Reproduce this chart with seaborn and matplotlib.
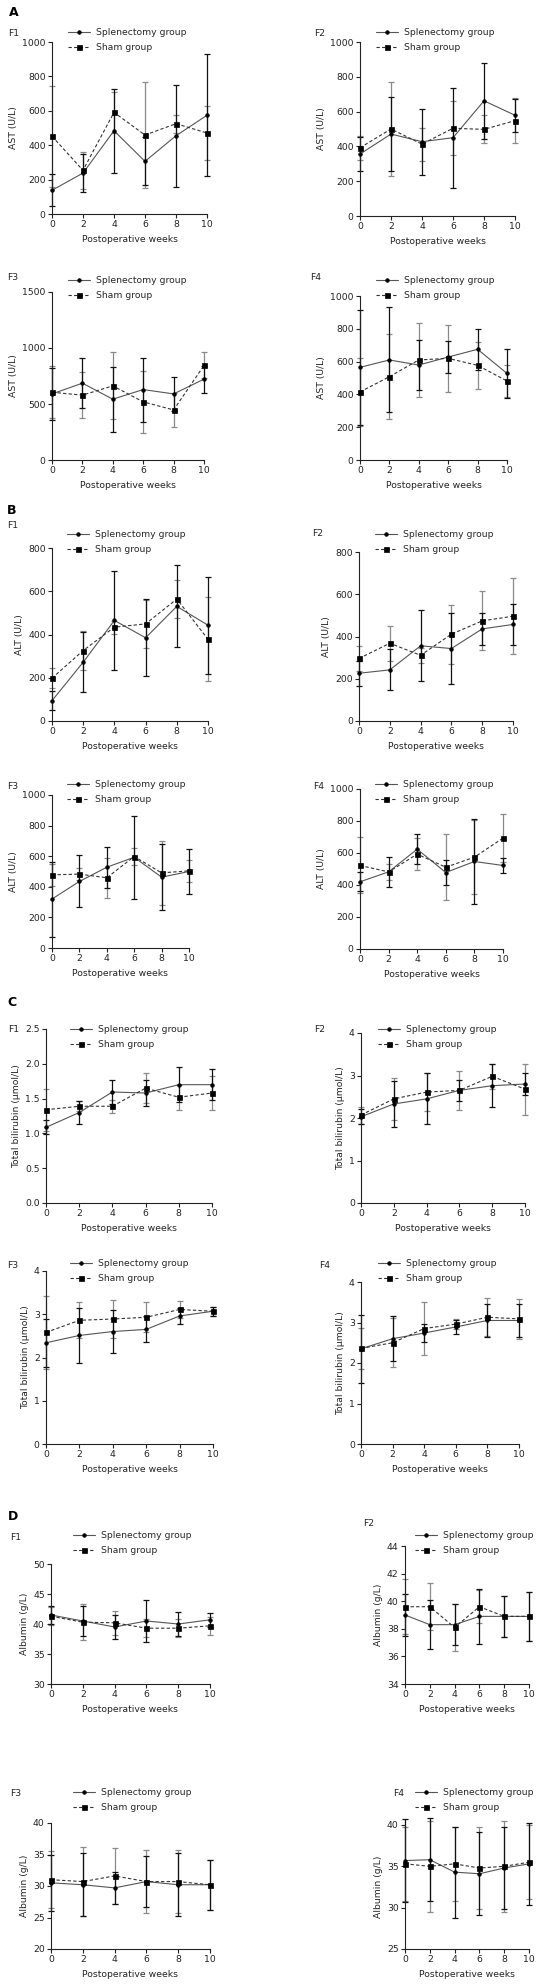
import matplotlib
matplotlib.use("Agg")
import matplotlib.pyplot as plt
import seaborn as sns
import pandas as pd

# ---------------- data ----------------
weeks = [0, 2, 4, 6, 8, 10]
groups = ["Splenectomy group", "Sham group"]

ast_f1_spl = [138, 238, 484, 306, 455, 574]
ast_f1_spl_sd = [93, 110, 245, 140, 296, 355]
ast_f1_sham = [452, 254, 591, 459, 525, 471]
ast_f1_sham_sd = [294, 107, 120, 308, 52, 159]

ast_f2_spl = [356, 471, 427, 450, 662, 579]
ast_f2_spl_sd = [100, 213, 190, 288, 220, 96]
ast_f2_sham = [392, 500, 413, 504, 498, 548]
ast_f2_sham_sd = [68, 270, 95, 155, 80, 130]

ast_f3_spl = [590, 686, 543, 629, 590, 722]
ast_f3_spl_sd = [230, 221, 290, 286, 150, 120]
ast_f3_sham = [605, 579, 662, 519, 447, 844]
ast_f3_sham_sd = [230, 205, 298, 280, 150, 116]

ast_f4_spl = [565, 610, 579, 628, 675, 528]
ast_f4_spl_sd = [350, 320, 150, 100, 125, 150]
ast_f4_sham = [415, 508, 610, 620, 577, 482]
ast_f4_sham_sd = [205, 258, 225, 205, 145, 100]

alt_f1_spl = [94, 272, 465, 385, 530, 443]
alt_f1_spl_sd = [45, 140, 228, 177, 190, 225]
alt_f1_sham = [198, 326, 434, 449, 564, 378]
alt_f1_sham_sd = [45, 90, 30, 110, 90, 195]

alt_f2_spl = [226, 242, 356, 343, 436, 457]
alt_f2_spl_sd = [60, 97, 168, 167, 75, 95]
alt_f2_sham = [296, 368, 311, 411, 474, 496]
alt_f2_sham_sd = [57, 83, 35, 140, 140, 180]

alt_f3_spl = [320, 435, 528, 593, 463, 500]
alt_f3_spl_sd = [245, 170, 135, 270, 215, 145]
alt_f3_sham = [478, 483, 459, 598, 491, 504]
alt_f3_sham_sd = [70, 40, 130, 55, 210, 70]

alt_f4_spl = [420, 482, 624, 478, 547, 522]
alt_f4_spl_sd = [60, 96, 95, 80, 265, 48]
alt_f4_sham = [522, 482, 593, 511, 574, 693]
alt_f4_sham_sd = [175, 50, 100, 207, 230, 152]

tb_f1_spl = [1.087, 1.30, 1.595, 1.58, 1.70, 1.70]
tb_f1_spl_sd = [0.10, 0.16, 0.17, 0.19, 0.25, 0.22]
tb_f1_sham = [1.34, 1.39, 1.39, 1.65, 1.52, 1.58]
tb_f1_sham_sd = [0.30, 0.07, 0.09, 0.22, 0.18, 0.25]

tb_f2_spl = [2.03, 2.33, 2.45, 2.65, 2.76, 2.80]
tb_f2_spl_sd = [0.18, 0.55, 0.60, 0.24, 0.50, 0.27]
tb_f2_sham = [2.07, 2.45, 2.61, 2.65, 2.98, 2.68]
tb_f2_sham_sd = [0.20, 0.50, 0.45, 0.46, 0.30, 0.60]

tb_f3_spl = [2.34, 2.51, 2.60, 2.65, 2.96, 3.07]
tb_f3_spl_sd = [0.55, 0.64, 0.50, 0.30, 0.18, 0.10]
tb_f3_sham = [2.58, 2.86, 2.89, 2.93, 3.11, 3.07]
tb_f3_sham_sd = [0.85, 0.42, 0.45, 0.35, 0.20, 0.10]

tb_f4_spl = [2.35, 2.60, 2.74, 2.89, 3.05, 3.05]
tb_f4_spl_sd = [0.84, 0.55, 0.22, 0.17, 0.41, 0.40]
tb_f4_sham = [2.36, 2.50, 2.85, 2.96, 3.13, 3.09]
tb_f4_sham_sd = [0.50, 0.60, 0.65, 0.13, 0.47, 0.50]

alb_f1_spl = [41.5, 40.5, 39.5, 40.5, 40.0, 40.7]
alb_f1_spl_sd = [1.5, 2.5, 2.0, 3.5, 2.0, 1.2]
alb_f1_sham = [41.3, 40.3, 40.2, 39.3, 39.3, 39.7]
alb_f1_sham_sd = [1.5, 3.0, 2.0, 1.5, 1.5, 1.5]

alb_f2_spl = [39.0, 38.3, 38.3, 38.9, 38.9, 38.9]
alb_f2_spl_sd = [1.5, 1.8, 1.5, 2.0, 1.5, 1.8]
alb_f2_sham = [39.6, 39.6, 38.1, 39.6, 38.9, 38.9]
alb_f2_sham_sd = [2.0, 1.7, 1.7, 1.2, 1.5, 1.8]

alb_f3_spl = [30.5, 30.2, 29.7, 30.7, 30.2, 30.2]
alb_f3_spl_sd = [4.5, 5.0, 2.5, 4.0, 5.0, 4.0]
alb_f3_sham = [31.0, 30.7, 31.6, 30.7, 30.7, 30.2]
alb_f3_sham_sd = [4.5, 5.5, 4.5, 5.0, 5.0, 4.0]

alb_f4_spl = [35.7, 35.8, 34.3, 34.1, 34.8, 35.3]
alb_f4_spl_sd = [5.0, 5.0, 5.5, 5.0, 5.0, 5.0]
alb_f4_sham = [35.3, 35.0, 35.3, 34.8, 35.0, 35.5]
alb_f4_sham_sd = [4.5, 5.5, 4.5, 5.0, 5.5, 4.5]

ast_label = "AST (U/L)"
alt_label = "ALT (U/L)"
tb_label = "Total bilirubin (\u03bcmol/L)"
alb_label = "Albumin (g/L)"
x_label = "Postoperative weeks"

# ---------------- style ----------------
sns.set_theme(style="ticks")
plt.rcParams["font.family"] = ["DejaVu Sans"]
TXT = "#222222"
FS = 6.7
plt.rcParams.update({
    "font.size": FS,
    "axes.linewidth": 0.8,
    "axes.edgecolor": "#222222",
    "axes.labelcolor": TXT,
    "xtick.color": "#222222",
    "ytick.color": "#222222",
    "xtick.labelcolor": TXT,
    "ytick.labelcolor": TXT,
    "xtick.major.size": 3,
    "ytick.major.size": 3,
    "xtick.major.width": 0.8,
    "ytick.major.width": 0.8,
    "xtick.major.pad": 1.5,
    "ytick.major.pad": 1.5,
    "xtick.labelsize": FS,
    "ytick.labelsize": FS,
    "axes.labelsize": FS,
    "legend.fontsize": FS,
})

W, H = 544, 1984
fig = plt.figure(figsize=(W / 100, H / 100), dpi=100)


def add_ax(l, t, r, b):
    return fig.add_axes([l / W, 1 - b / H, (r - l) / W, (b - t) / H])


panels = [
    # rect, ylabel, yticks, fmt, spl, spl_sd, sham, sham_sd, F label, F pos, legend (x, y1)
    ((52, 42, 207, 214), ast_label, [0, 200, 400, 600, 800, 1000], "{:.0f}",
     ast_f1_spl, ast_f1_spl_sd, ast_f1_sham, ast_f1_sham_sd, "F1", (8, 33), (68, 34)),
    ((360, 42, 515, 216), ast_label, [0, 200, 400, 600, 800, 1000], "{:.0f}",
     ast_f2_spl, ast_f2_spl_sd, ast_f2_sham, ast_f2_sham_sd, "F2", (314, 33), (376, 34)),
    ((52, 292, 204, 460), ast_label, [0, 500, 1000, 1500], "{:.0f}",
     ast_f3_spl, ast_f3_spl_sd, ast_f3_sham, ast_f3_sham_sd, "F3", (7, 278), (68, 282)),
    ((360, 296, 507, 460), ast_label, [0, 200, 400, 600, 800, 1000], "{:.0f}",
     ast_f4_spl, ast_f4_spl_sd, ast_f4_sham, ast_f4_sham_sd, "F4", (310, 278), (376, 282)),
    ((52, 548, 208, 721), alt_label, [0, 200, 400, 600, 800], "{:.0f}",
     alt_f1_spl, alt_f1_spl_sd, alt_f1_sham, alt_f1_sham_sd, "F1", (7, 525), (67, 536)),
    ((359, 552, 513, 721), alt_label, [0, 200, 400, 600, 800], "{:.0f}",
     alt_f2_spl, alt_f2_spl_sd, alt_f2_sham, alt_f2_sham_sd, "F2", (312, 533), (375, 536)),
    ((52, 795, 189, 948), alt_label, [0, 200, 400, 600, 800, 1000], "{:.0f}",
     alt_f3_spl, alt_f3_spl_sd, alt_f3_sham, alt_f3_sham_sd, "F3", (7, 786), (67, 786)),
    ((360, 789, 503, 949), alt_label, [0, 200, 400, 600, 800, 1000], "{:.0f}",
     alt_f4_spl, alt_f4_spl_sd, alt_f4_sham, alt_f4_sham_sd, "F4", (313, 786), (375, 786)),
    ((46, 1029, 212, 1203), tb_label, [0.0, 0.5, 1.0, 1.5, 2.0, 2.5], "{:.1f}",
     tb_f1_spl, tb_f1_spl_sd, tb_f1_sham, tb_f1_sham_sd, "F1", (8, 1029), (70, 1031)),
    ((361, 1033, 525, 1203), tb_label, [0, 1, 2, 3, 4], "{:.0f}",
     tb_f2_spl, tb_f2_spl_sd, tb_f2_sham, tb_f2_sham_sd, "F2", (314, 1029), (378, 1031)),
    ((46, 1271, 213, 1444), tb_label, [0, 1, 2, 3, 4], "{:.0f}",
     tb_f3_spl, tb_f3_spl_sd, tb_f3_sham, tb_f3_sham_sd, "F3", (7, 1265), (70, 1265)),
    ((361, 1282, 519, 1444), tb_label, [0, 1, 2, 3, 4], "{:.0f}",
     tb_f4_spl, tb_f4_spl_sd, tb_f4_sham, tb_f4_sham_sd, "F4", (319, 1265), (378, 1265)),
    ((51, 1564, 210, 1684), alb_label, [30, 35, 40, 45, 50], "{:.0f}",
     alb_f1_spl, alb_f1_spl_sd, alb_f1_sham, alb_f1_sham_sd, "F1", (10, 1538), (73, 1537)),
    ((405, 1546, 529, 1684), alb_label, [34, 36, 38, 40, 42, 44], "{:.0f}",
     alb_f2_spl, alb_f2_spl_sd, alb_f2_sham, alb_f2_sham_sd, "F2", (363, 1524), (415, 1537)),
    ((51, 1823, 210, 1949), alb_label, [20, 25, 30, 35, 40], "{:.0f}",
     alb_f3_spl, alb_f3_spl_sd, alb_f3_sham, alb_f3_sham_sd, "F3", (10, 1794), (73, 1794)),
    ((405, 1825, 529, 1949), alb_label, [25, 30, 35, 40], "{:.0f}",
     alb_f4_spl, alb_f4_spl_sd, alb_f4_sham, alb_f4_sham_sd, "F4", (393, 1794), (415, 1794)),
]

section_letters = [("A", (9, 12)), ("B", (7, 510)), ("C", (7, 1003)), ("D", (8, 1516))]

for (rect, ylab, yticks, fmt, spl, spl_sd, sham, sham_sd, flab, fpos, lpos) in panels:
    ax = add_ax(*rect)
    df = pd.DataFrame({
        "week": weeks + weeks,
        "value": list(spl) + list(sham),
        "group": [groups[0]] * len(weeks) + [groups[1]] * len(weeks),
    })
    sns.lineplot(
        data=df, x="week", y="value", hue="group", style="group",
        hue_order=groups, style_order=groups,
        palette={groups[0]: "#555555", groups[1]: "#333333"},
        markers={groups[0]: "o", groups[1]: "s"},
        dashes={groups[0]: "", groups[1]: (3, 2)},
        linewidth=0.8, legend=False, ax=ax, clip_on=False, zorder=3,
    )
    l_spl, l_sham = ax.lines[0], ax.lines[1]
    for ln, ms in ((l_spl, 2.6), (l_sham, 3.6)):
        ln.set_markerfacecolor("black")
        ln.set_markeredgecolor("black")
        ln.set_markersize(ms)
        ln.set_markeredgewidth(0.5)

    for y, sd, col in ((sham, sham_sd, "#8a8a8a"), (spl, spl_sd, "#111111")):
        cont = ax.errorbar(weeks, y, yerr=sd, fmt="none", ecolor=col,
                           elinewidth=0.9, capsize=2.5, capthick=0.9, zorder=2)
        for art in list(cont.lines[1]) + list(cont.lines[2]):
            art.set_clip_on(False)

    ax.set_xlim(0, 10)
    ax.set_xticks(weeks)
    ax.set_ylim(yticks[0], yticks[-1])
    ax.set_yticks(yticks)
    ax.set_yticklabels([fmt.format(v) for v in yticks])
    ax.set_xlabel(x_label, labelpad=4)
    ax.set_ylabel(ylab, labelpad=3)
    sns.despine(ax=ax)

    ax.legend(handles=[l_spl, l_sham], labels=groups, loc="upper left",
              bbox_to_anchor=(lpos[0] / W, 1 - (lpos[1] - 6) / H),
              bbox_transform=fig.transFigure, frameon=False, borderpad=0,
              borderaxespad=0, handlelength=2.4, handletextpad=0.6,
              labelspacing=0.62, numpoints=1)

    fig.text(fpos[0] / W, 1 - fpos[1] / H, flab, ha="left", va="center",
             fontsize=FS, color=TXT)

for letter, (x, y) in section_letters:
    fig.text(x / W, 1 - y / H, letter, ha="left", va="center",
             fontsize=9, fontweight="bold", color="black")

fig.savefig("out.png", dpi=100, facecolor="white")
